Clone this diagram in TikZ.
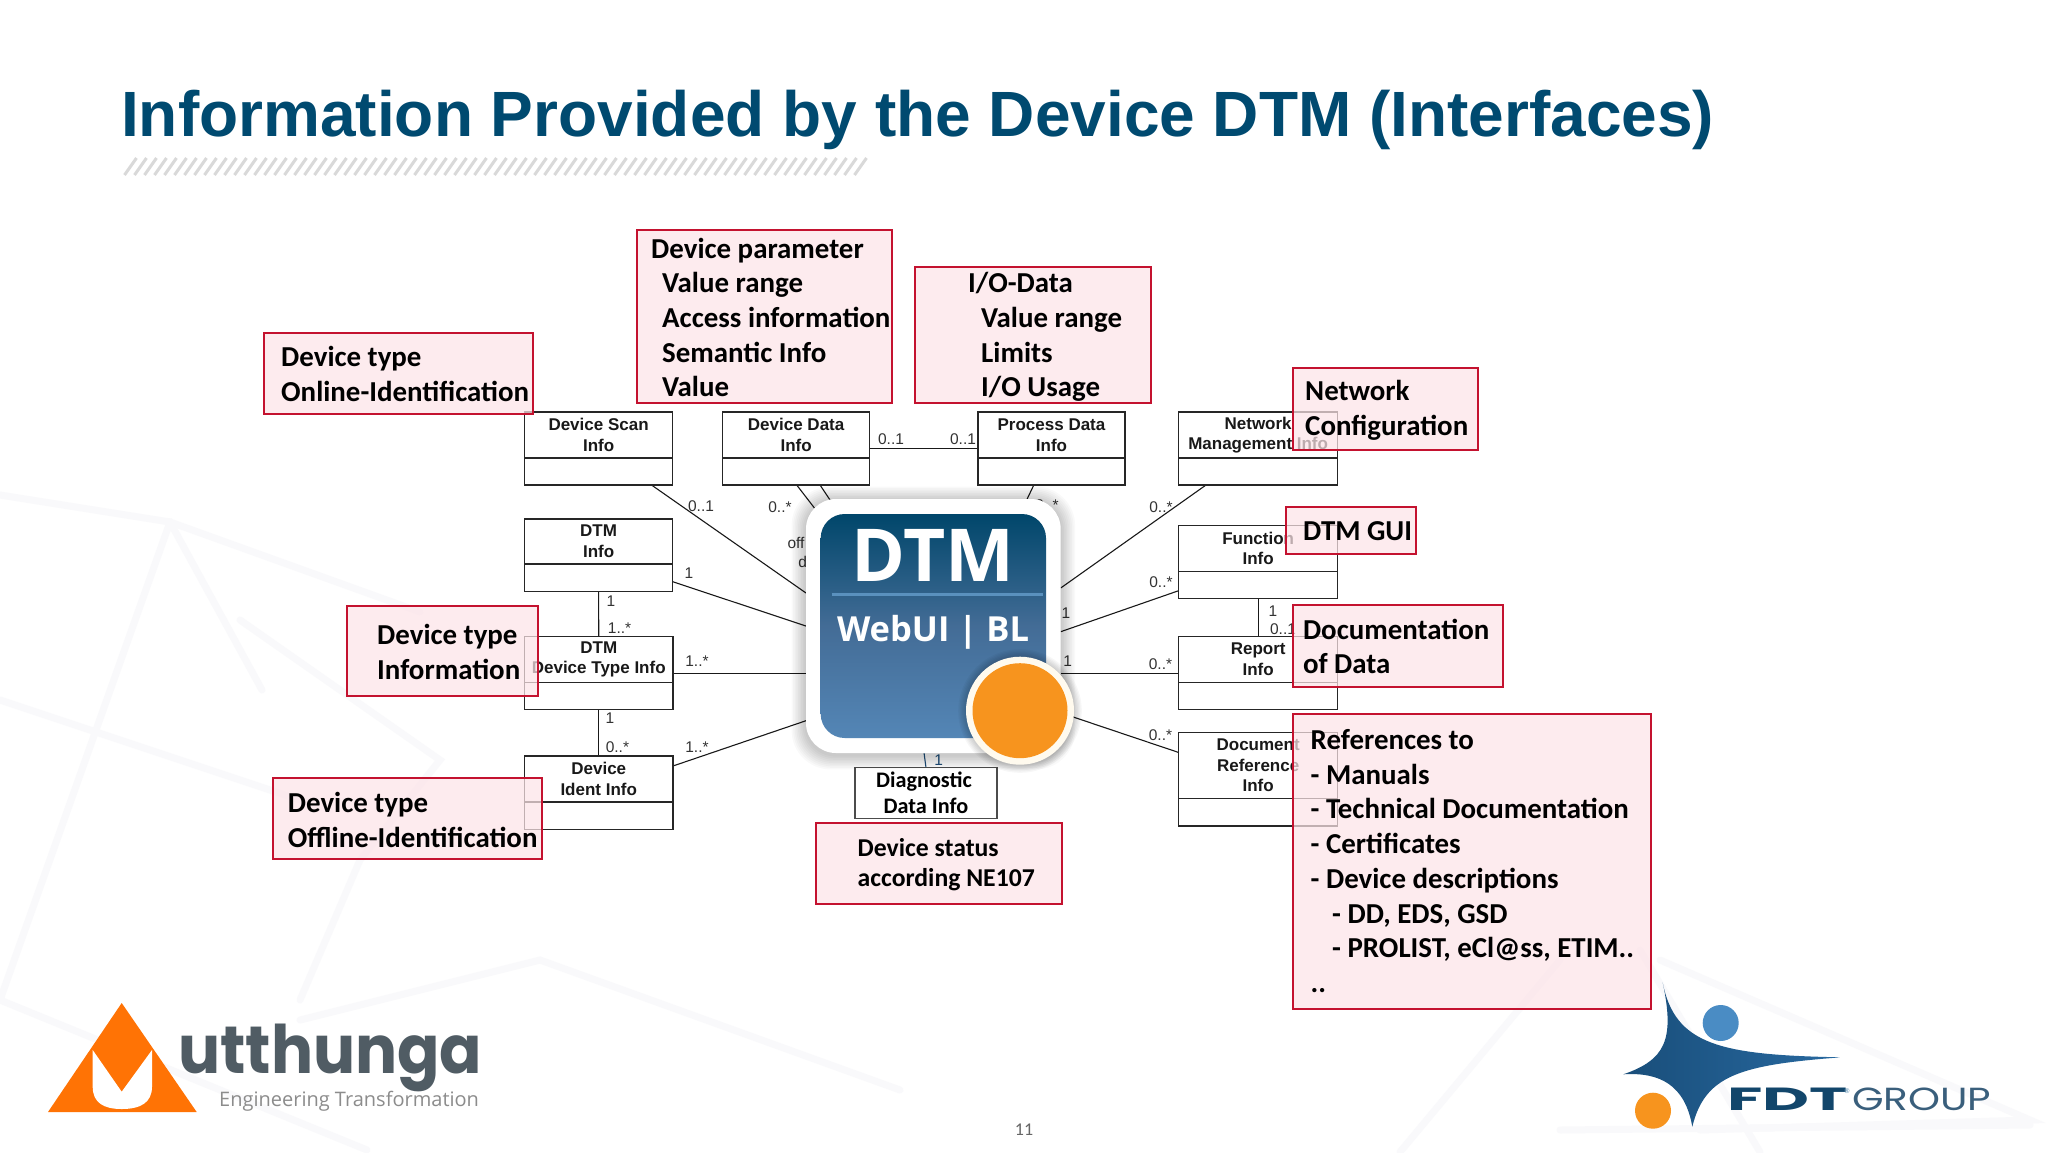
\documentclass[tikz,border=0pt]{standalone}
\usepackage{fontspec}
\setmainfont{Liberation Sans}
\newfontfamily\calibri{Carlito}
\newfontfamily\opensans{Open Sans}
\newfontfamily\poppins{Poppins}
\definecolor{titleblue}{HTML}{004A70}
\definecolor{annored}{HTML}{C4122F}
\definecolor{annofill}{HTML}{FDE4E8}
\definecolor{bgline}{HTML}{F9F9FB}
\pgfdeclarelayer{bgl}\pgfdeclarelayer{conn}\pgfdeclarelayer{anno}
\pgfsetlayers{bgl,conn,main,anno}
\tikzset{
  cbox/.style={draw=black!85,line width=1.5pt,fill=white,inner sep=0pt,outer sep=0pt},
  ctext/.style={font=\fontsize{17}{20.6}\selectfont\bfseries,align=center,inner sep=0pt,text=black!90},
  mult/.style={font=\fontsize{15.5}{18}\selectfont,inner sep=0pt,text=black!80},
  conline/.style={line width=1.1pt,draw=black!90},
  annobox/.style={draw=annored,line width=2pt,fill=annofill,fill opacity=.72,draw opacity=1,inner sep=0pt,outer sep=0pt},
  annotext/.style={font=\calibri\fontsize{28.9}{34.7}\selectfont\bfseries,align=left,inner sep=0pt,anchor=west,text=black},
  annosmall/.style={annotext,font=\calibri\fontsize{25.7}{30.5}\selectfont\bfseries},
  bgl/.style={draw=bgline,line width=7pt,line cap=round},
}
\newcommand{\classbox}[7]{%
  \node[cbox,minimum width={(#4-#2)*1pt},minimum height={(#5-#3)*1pt}] (#1) at ({(#2+#4)/2},{(#3+#5)/2}) {};
  \draw[line width=1.5pt,draw=black!85] (#1.west |- 0,#6) -- (#1.east |- 0,#6);
  \node[ctext] (#1-t) at ({(#2+#4)/2},{(#3+#6)/2}) {#7};
}
\newcommand{\anno}[9][annotext]{%
  \begin{pgfonlayer}{anno}
  \node[annobox,minimum width={(#4-#2)*1pt},minimum height={(#5-#3)*1pt}] (#2-box) at ({(#2+#4)/2},{(#3+#5)/2}) {};
  \node[#1] (#2-text) at (#6,#7) {#9};
  \end{pgfonlayer}
}
\begin{document}
\begin{tikzpicture}[x=1pt,y=-1pt]
\useasboundingbox (0,0) rectangle (2048,1152);
% faint background network
\begin{pgfonlayer}{bgl}
\fill[white] (0,0) rectangle (2048,1152);
\draw[bgl] (0,495) -- (170,522) -- (262,690);
\draw[bgl] (170,522) -- (420,612);
\draw[bgl] (170,522) -- (0,1000);
\draw[bgl] (240,620) -- (440,760) -- (360,860) -- (300,1000);
\draw[bgl] (0,700) -- (330,810);
\draw[bgl] (0,1000) -- (367,1150);
\draw[bgl] (300,1020) -- (540,960) -- (900,1090);
\draw[bgl] (1660,960) -- (2030,1120) -- (1700,1130);
\draw[bgl] (1400,1152) -- (1560,960);
\draw[bgl] (1640,950) -- (1760,1152);
\draw[bgl] (1560,1130) -- (2030,1125);
\end{pgfonlayer}
% title
\node[anchor=base west,inner sep=0pt,text=titleblue,font=\fontsize{64}{70}\selectfont\bfseries] (title) at (121,136) {Information Provided by the Device DTM (Interfaces)};
\foreach \i in {0,...,73} \draw[draw=black!15,line width=3pt] ({124.5+\i*10},175) -- ({136.5+\i*10},158);
% class boxes
\classbox{scan}{524.5}{412}{672.7}{485}{458}{Device Scan\\Info}
\classbox{data}{722.7}{412}{869.6}{485}{458}{Device Data\\Info}
\classbox{proc}{978}{412}{1125}{485}{458}{Process Data\\Info}
\classbox{net}{1178.6}{412}{1337.7}{485}{458}{Network\\Management Info}
\classbox{info}{524.5}{519}{672.7}{591.7}{564}{DTM\\Info}
\classbox{func}{1178.6}{525.7}{1337.7}{598.3}{571.3}{Function\\Info}
\classbox{typ}{524.7}{636.7}{672.8}{709.7}{682.3}{DTM\\Device Type Info}
\classbox{rep}{1178.6}{636.7}{1337.7}{709.7}{682.3}{Report\\Info}
\classbox{ident}{524.7}{756}{672.8}{829.3}{802}{Device\\Ident Info}
\classbox{doc}{1178.6}{732.3}{1337.7}{826}{798.3}{Document\\Reference\\Info}
\node[draw=black!70,line width=1.5pt,fill=white,inner sep=0pt,outer sep=0pt,minimum width=142pt,minimum height=51pt,align=center,font=\calibri\fontsize{22.2}{26}\selectfont\bfseries] (diag) at (926,793.2) {Diagnostic\kern4pt\\Data Info};
% icon shadow
\foreach \s in {1,...,9} \fill[black,opacity=.022,rounded corners={(30+\s)*1pt}] ({806-\s*1.6},{499-\s*1.6+2}) rectangle ({1060.7+\s*1.6},{753+\s*1.6+2});
\node[fill=white,rounded corners=30pt,minimum width=254.7pt,minimum height=254pt,inner sep=0pt,outer sep=0pt] (icon) at (933.35,626) {};
\node[rounded corners=24pt,top color=titleblue!95!black,bottom color={rgb,255:red,84;green,134;blue,182},middle color={rgb,255:red,67;green,108;blue,150},minimum width=225.3pt,minimum height=224pt,inner sep=0pt,outer sep=0pt] (face) at (933.35,626) {};
\node[text=white,inner sep=0pt,font=\opensans\fontsize{73}{73}\selectfont\bfseries] (dtmt) at (933,555) {DTM};
\draw[draw={rgb,255:red,90;green,145;blue,190},line width=3pt] (831.7,594.3) -- (1042.7,594.3);
\node[text=white,inner sep=0pt,font=\opensans\fontsize{34.5}{37}\selectfont\bfseries] (web) at (933,632) {WebUI | BL};
\foreach \s in {1,...,6} \fill[black,opacity=.03] (1020,711) circle ({54+\s*1.3});
\node[circle,fill={rgb,255:red,255;green,250;blue,238},draw=none,minimum size=108pt,inner sep=0pt] (halo) at (1020,710.7) {};
\node[circle,fill={rgb,255:red,247;green,148;blue,30},minimum size=95pt,inner sep=0pt] (dot) at (1020,710.7) {};
% connectors and multiplicities
\begin{pgfonlayer}{conn}
\draw[conline] ([xshift=127pt]scan.south west) -- ([yshift=33pt]icon.west);
\draw[conline] ([xshift=74pt]data.south west) -- ([xshift=20pt,yshift=-24pt]icon.north west);
\draw[conline] ([xshift=97.3pt]data.south west) -- ([xshift=37.5pt,yshift=-21pt]icon.north west);
\draw[conline] (data.east) -- (proc.west);
\draw[conline] ([xshift=55.8pt]proc.south west) -- ([xshift=214pt,yshift=-15pt]icon.north west);
\draw[conline] ([xshift=27.4pt]net.south west) -- ([yshift=38pt]icon.east);
\draw[conline] ([yshift=7.6pt]func.south west) -- ([yshift=-5.7pt]icon.east);
\draw[conline] (rep.west) -- ([yshift=-47.2pt]icon.east);
\draw[conline] ([yshift=26.7pt]doc.west) -- ([yshift=-86.8pt]icon.east);
\draw[conline] ([yshift=10pt]info.south east) -- (icon.west);
\draw[conline] (typ.east) -- ([yshift=-47.2pt]icon.west);
\draw[conline] ([yshift=26.6pt]ident.east) -- ([yshift=-94.7pt]icon.west);
\draw[conline] (info.south) -- (typ.north);
\draw[conline] (typ.south) -- (ident.north);
\draw[conline] (func.south) -- (rep.north);
\draw[line width=1.1pt,draw={rgb,255:red,30;green,78;blue,121}] ([xshift=-9.3pt]icon.south) -- (diag.north);
\node[mult] (m1) at (701,506) {0..1};
\node[mult] (m2) at (780,506.7) {0..*};
\node[mult] (m3) at (891,439) {0..1};
\node[mult] (m4) at (963,439) {0..1};
\node[mult] (m5) at (1047,505) {0..*};
\node[mult] (m6) at (1161,506.7) {0..*};
\node[mult] (m7) at (1161,582) {0..*};
\node[mult] (m8) at (1066,612.7) {1};
\node[mult] (m9) at (1067.7,661) {1};
\node[mult] (m10) at (1273,610.7) {1};
\node[mult] (m11) at (1283,629) {0..1};
\node[mult] (m12) at (1160.5,664.3) {0..*};
\node[mult] (m13) at (1160.5,735) {0..*};
\node[mult] (m14) at (689,572.7) {1};
\node[mult] (m15) at (611,601) {1};
\node[mult] (m16) at (619.6,628) {1..*};
\node[mult] (m17) at (697,661) {1..*};
\node[mult] (m18) at (610,718) {1};
\node[mult] (m19) at (617.4,747) {0..*};
\node[mult] (m20) at (697,747) {1..*};
\node[mult,text={rgb,255:red,30;green,78;blue,121}] (m21) at (938.7,760) {1};
\node[mult] (off) at (796,543) {off};
\node[mult] (offd) at (802.7,562) {d};
\end{pgfonlayer}
% annotations
\anno{264.4}{332.7}{532.5}{414}{281}{374}{}{Device type\\Online-Identification}
\anno{637}{230}{892}{403}{651}{317.5}{}{Device parameter\\\hspace*{11pt}Value range\\\hspace*{11pt}Access information\\\hspace*{11pt}Semantic Info\\\hspace*{11pt}Value}
\anno{914.7}{267}{1151}{403}{968}{337}{}{I/O-Data\\\hspace*{13pt}Value range\\\hspace*{13pt}Limits\\\hspace*{13pt}I/O Usage}
\anno{1293}{368}{1478}{450}{1305}{410.5}{}{Network\\Configuration}
\anno{1286}{506.7}{1415.6}{554}{1303}{531}{}{DTM GUI}
\anno{1293}{604.7}{1502.6}{686.7}{1302.8}{646.5}{}{Documentation\\of Data}
\anno{347}{605.7}{538.4}{696.3}{377}{652}{}{Device type\\Information}
\anno{273}{778}{541.7}{859.3}{287.7}{820}{}{Device type\\Offline-Identification}
\anno[annosmall]{816}{823}{1061.7}{904}{857.5}{864.5}{}{Device status\\according NE107}
\anno{1293}{714}{1650.7}{1008.7}{1310.5}{861}{}{References to\\- Manuals\\- Technical Documentation\\- Certificates\\- Device descriptions\\\hspace*{21.5pt}- DD, EDS, GSD\\\hspace*{21.5pt}- PROLIST, eCl@ss, ETIM..\\..}
% utthunga logo
\fill[fill={rgb,255:red,255;green,115;blue,5}] (121.7,1003) -- (196.7,1112) -- (48,1112) -- cycle;
\fill[white] (92.7,1050) -- (121.7,1091.7) -- (152,1050) -- (152,1086.7) .. controls (152,1103) and (140,1109) .. (121.7,1109) .. controls (104,1109) and (92.7,1103) .. (92.7,1086.7) -- cycle;
\node[anchor=base west,inner sep=0pt,text={rgb,255:red,80;green,92;blue,100},font=\poppins\fontsize{62.5}{66}\selectfont\bfseries] (ut) at (178,1073.3) {\scalebox{1}[1.07]{utthunga}};
\node[anchor=base west,inner sep=0pt,text=black!45,font=\opensans\fontsize{20}{22}\selectfont] (ute) at (219,1106.7) {Engineering Transformation};
% FDT logo
\shade[left color={rgb,255:red,25;green,78;blue,122},right color={rgb,255:red,40;green,105;blue,160},draw=none] (1662.7,982.7) .. controls (1675,1045) and (1720,1055) .. (1840.7,1057.3) .. controls (1740,1065) and (1705,1075) .. (1692.3,1126.7) .. controls (1685,1085) and (1660,1072) .. (1623.3,1074.3) .. controls (1665,1060) and (1675,1040) .. (1662.7,982.7) -- cycle;
\node[circle,fill={rgb,255:red,74;green,140;blue,196},minimum size=36pt,inner sep=0pt] (fb) at (1720.7,1023) {};
\node[circle,fill={rgb,255:red,247;green,148;blue,30},minimum size=36pt,inner sep=0pt] (fo) at (1653,1110.7) {};
\node[anchor=base west,inner sep=0pt,text={rgb,255:red,18;green,70;blue,107},font=\poppins\fontsize{32}{32}\selectfont\bfseries] (fdt) at (1727,1110.7) {\scalebox{2.02}[1]{FDT}};
\node[inner sep=0pt,text={rgb,255:red,70;green,130;blue,170},font=\fontsize{7}{7}\selectfont] (reg) at (1847,1091) {®};
\node[anchor=base west,inner sep=0pt,text={rgb,255:red,58;green,95;blue,124},font=\poppins\fontsize{32}{32}\selectfont] (grp) at (1852,1110.7) {\scalebox{1.27}[1]{GROUP}};
\node[inner sep=0pt,text=black!60,font=\calibri\fontsize{18}{20}\selectfont] (pg) at (1024,1130) {11};
\end{tikzpicture}
\end{document}
